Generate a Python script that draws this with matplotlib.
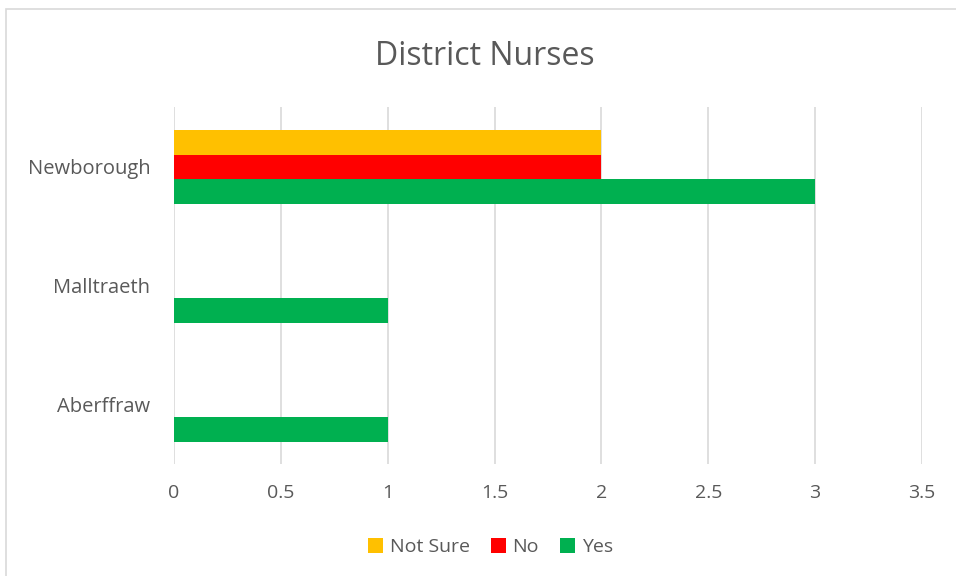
import matplotlib
matplotlib.use("Agg")
import matplotlib.pyplot as plt
from matplotlib.patches import Rectangle

# data
villages = ["Aberffraw", "Malltraeth", "Newborough"]
yes = [1, 1, 3]
no = [0, 0, 2]
not_sure = [0, 0, 2]

plt.rcParams['font.family'] = ['Open Sans', 'DejaVu Sans']
txt = '#595959'

fig = plt.figure(figsize=(9.56, 5.76), dpi=100)
ax = fig.add_axes([0.182, 0.1936, 0.7824, 0.6198])

h = 0.206
pos = list(range(len(villages)))
ax.barh([p - h for p in pos], yes, height=h, color='#00B050', label='Yes', zorder=3)
ax.barh(pos, no, height=h, color='#FF0000', label='No', zorder=3)
ax.barh([p + h for p in pos], not_sure, height=h, color='#FFC000', label='Not Sure', zorder=3)

ax.set_xlim(0, 3.5)
ax.set_ylim(-0.5, 2.5)
ax.set_xticks([0, 0.5, 1, 1.5, 2, 2.5, 3, 3.5])
ax.set_xticklabels(["0", "0.5", "1", "1.5", "2", "2.5", "3", "3.5"])
ax.set_yticks(pos)
ax.set_yticklabels(villages)
ax.tick_params(axis='x', length=0, pad=14, labelsize=14, labelcolor=txt)
ax.tick_params(axis='y', length=0, pad=17, labelsize=14.5, labelcolor=txt)
ax.grid(axis='x', color='#D9D9D9', linewidth=1.2, zorder=0)
for s in ax.spines.values():
    s.set_visible(False)

fig.text(0.507, 0.902, "District Nurses", ha='center', va='center', fontsize=23, color=txt)

handles, labels = ax.get_legend_handles_labels()
leg = fig.legend(handles[::-1], labels[::-1], loc='center', bbox_to_anchor=(0.513, 0.05),
                 ncol=3, frameon=False, fontsize=14, labelcolor=txt,
                 handlelength=0.75, handleheight=0.75, handletextpad=0.35, columnspacing=1.1)

fig.patches.append(Rectangle((6 / 956, -0.1), 1.2, 0.1 + (576 - 9) / 576, transform=fig.transFigure,
                             fill=False, edgecolor='#D9D9D9', linewidth=1.2))

fig.savefig("out.png", dpi=100)
